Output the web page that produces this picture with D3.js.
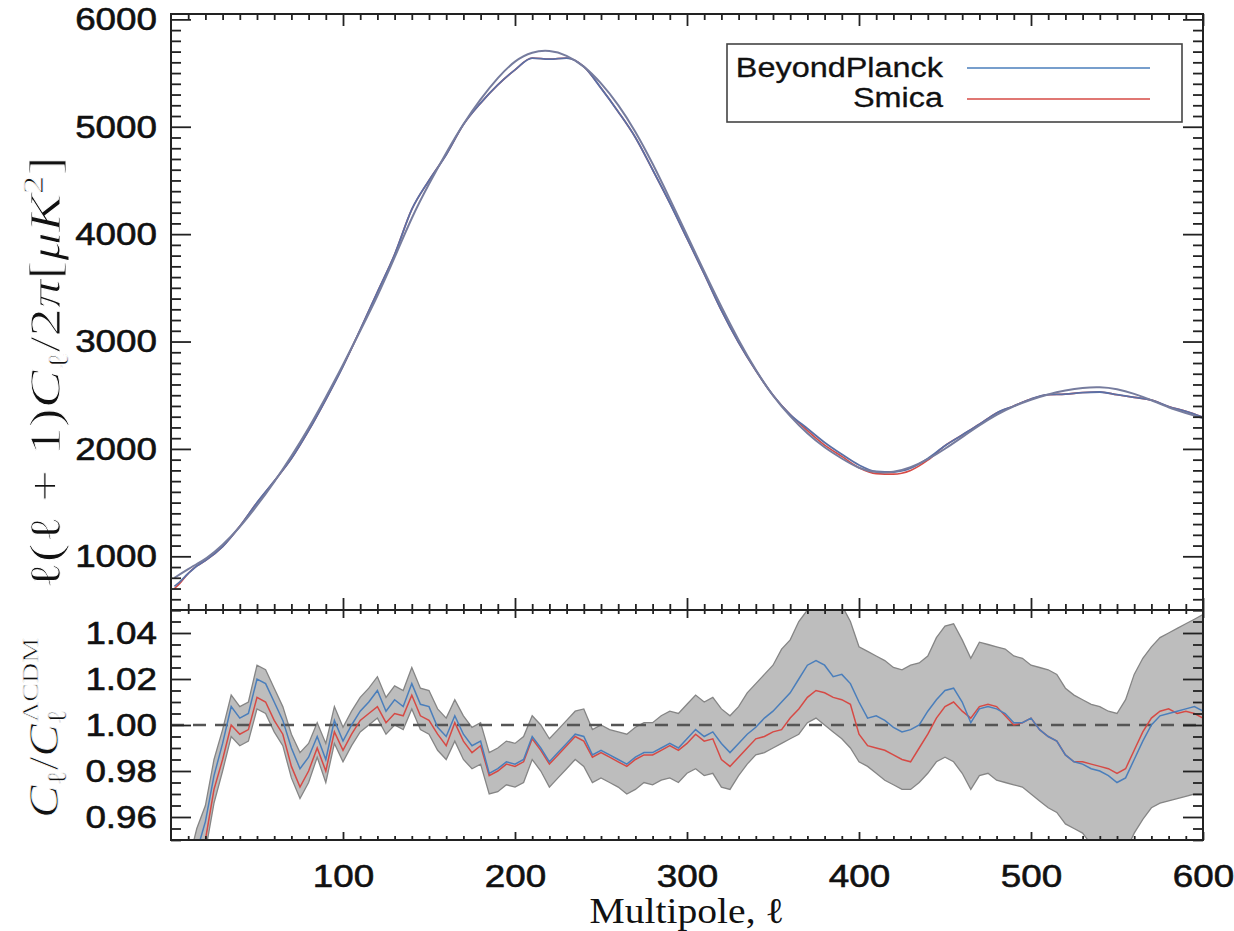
<!DOCTYPE html>
<html>
<head>
<meta charset="utf-8">
<script src="https://cdn.jsdelivr.net/npm/d3@7"></script>
<style>
  body { margin: 0; background: #fff; }
  text { font-family: 'Liberation Sans', Arial, sans-serif; fill: #111; }
  .serif { font-family: 'Liberation Serif', 'DejaVu Serif', serif; }
</style>
</head>
<body>
<div id="chart"></div>
<script>
// ---- data ----
// top panel: D_ell in muK^2
const ellTop = [2, 5, 10, 15, 20, 30, 40, 50, 60, 70, 80, 90, 100, 110, 120, 130, 140, 150, 160, 170,
  180, 190, 200, 210, 220, 230, 240, 250, 260, 270, 280, 290, 300, 310, 320, 330, 340, 350, 360, 370,
  380, 390, 400, 410, 420, 430, 440, 450, 460, 470, 480, 490, 500, 510, 520, 530, 540, 550, 560, 570,
  580, 590, 600]
const lcdmTop = [800, 830, 880, 930, 970, 1100, 1270, 1470, 1690, 1930, 2190, 2480, 2780, 3100, 3420, 3780, 4160, 4470, 4760, 5030,
  5260, 5460, 5620, 5700, 5715, 5670, 5570, 5410, 5210, 4960, 4660, 4330, 3990, 3650, 3320, 3010, 2730, 2490, 2300, 2140,
  2010, 1910, 1815, 1778, 1780, 1825, 1900, 2000, 2110, 2220, 2320, 2400, 2460, 2510, 2545, 2570, 2578, 2560, 2515, 2455,
  2385, 2335, 2285]
const bpTop = [720, 760, 840, 910, 960, 1090, 1280, 1500, 1700, 1910, 2170, 2460, 2770, 3110, 3460, 3810, 4230, 4500, 4740, 5020,
  5220, 5390, 5530, 5640, 5630, 5640, 5560, 5360, 5140, 4900, 4600, 4290, 3960, 3630, 3290, 2990, 2730, 2500, 2320, 2190,
  2060, 1950, 1850, 1790, 1785, 1820, 1910, 2030, 2130, 2230, 2335, 2400, 2465, 2505, 2510, 2525, 2530, 2505, 2480, 2455,
  2395, 2350, 2295]
const smicaTop = [700, 745, 840, 910, 960, 1090, 1280, 1500, 1700, 1910, 2170, 2460, 2770, 3110, 3460, 3810, 4230, 4500, 4740, 5020,
  5220, 5390, 5530, 5640, 5630, 5640, 5560, 5360, 5140, 4900, 4600, 4290, 3960, 3630, 3290, 2990, 2730, 2500, 2320, 2170,
  2035, 1930, 1825, 1770, 1765, 1800, 1895, 2030, 2130, 2230, 2335, 2400, 2465, 2505, 2510, 2525, 2530, 2505, 2480, 2455,
  2395, 2350, 2295]

// bottom panel: C_ell / C_ell^LCDM
const ellRatio = [10, 15, 20, 25, 30, 35, 40, 45, 50, 55,
  60, 65, 70, 75, 80, 85, 90, 95, 100, 105,
  110, 115, 120, 125, 130, 135, 140, 145, 150, 155,
  160, 165, 170, 175, 180, 185, 190, 195, 200, 205,
  210, 215, 220, 225, 230, 235, 240, 245, 250, 255,
  260, 265, 270, 275, 280, 285, 290, 295, 300, 305,
  310, 315, 320, 325, 330, 335, 340, 345, 350, 355,
  360, 365, 370, 375, 380, 385, 390, 395, 400, 405,
  410, 415, 420, 425, 430, 435, 440, 445, 450, 455,
  460, 465, 470, 475, 480, 485, 490, 495, 500, 505,
  510, 515, 520, 525, 530, 535, 540, 545, 550, 555,
  560, 565, 570, 575, 580, 585, 590, 595, 600]
const bpRatio = [0.930, 0.945, 0.958, 0.978, 0.992, 1.008, 1.003, 1.005, 1.020, 1.018,
  1.010, 1.002, 0.990, 0.981, 0.986, 0.995, 0.985, 1.002, 0.993, 1.000,
  1.006, 1.010, 1.015, 1.006, 1.011, 1.008, 1.018, 1.009, 1.008, 0.999,
  0.995, 1.004, 0.996, 0.991, 0.993, 0.979, 0.981, 0.984, 0.983, 0.985,
  0.995, 0.990, 0.984, 0.988, 0.992, 0.996, 0.995, 0.987, 0.989, 0.987,
  0.985, 0.983, 0.986, 0.988, 0.988, 0.990, 0.992, 0.990, 0.994, 0.998,
  0.995, 0.997, 0.992, 0.988, 0.992, 0.996, 0.999, 1.003, 1.006, 1.010,
  1.014, 1.020, 1.026, 1.028, 1.026, 1.021, 1.022, 1.018, 1.010, 1.003,
  1.004, 1.002, 0.999, 0.997, 0.998, 1.000, 1.006, 1.011, 1.015, 1.016,
  1.010, 1.001, 1.007, 1.008, 1.007, 1.005, 1.001, 1.001, 1.003, 0.998,
  0.995, 0.993, 0.987, 0.984, 0.983, 0.981, 0.980, 0.978, 0.975, 0.977,
  0.985, 0.993, 1.000, 1.004, 1.005, 1.006, 1.007, 1.008, 1.006]
const smicaRatio = [0.925, 0.940, 0.950, 0.972, 0.985, 1.000, 0.996, 0.998, 1.012, 1.010,
  1.002, 0.996, 0.982, 0.973, 0.980, 0.990, 0.980, 0.997, 0.989, 0.996,
  1.002, 1.005, 1.008, 1.001, 1.005, 1.004, 1.013, 1.004, 1.002, 0.996,
  0.991, 1.001, 0.993, 0.988, 0.991, 0.978, 0.980, 0.983, 0.982, 0.984,
  0.994, 0.989, 0.983, 0.987, 0.991, 0.995, 0.993, 0.986, 0.988, 0.986,
  0.984, 0.982, 0.985, 0.987, 0.987, 0.989, 0.991, 0.989, 0.992, 0.996,
  0.993, 0.994, 0.985, 0.982, 0.986, 0.990, 0.994, 0.995, 0.997, 0.998,
  1.003, 1.007, 1.012, 1.015, 1.014, 1.012, 1.011, 1.009, 0.996, 0.991,
  0.990, 0.989, 0.987, 0.985, 0.984, 0.990, 0.996, 1.003, 1.008, 1.010,
  1.006, 1.003, 1.008, 1.009, 1.008, 1.004, 1.000, 1.001, 1.003, 0.998,
  0.995, 0.993, 0.987, 0.984, 0.984, 0.983, 0.982, 0.981, 0.979, 0.981,
  0.989, 0.997, 1.003, 1.006, 1.007, 1.005, 1.006, 1.005, 1.003]
const bandHigh = [0.940, 0.955, 0.965, 0.985, 0.998, 1.013, 1.008, 1.010, 1.026, 1.024,
  1.016, 1.008, 0.996, 0.988, 0.992, 1.001, 0.992, 1.008, 0.999, 1.006,
  1.012, 1.016, 1.021, 1.012, 1.017, 1.015, 1.025, 1.016, 1.015, 1.007,
  1.003, 1.011, 1.004, 0.999, 1.001, 0.988, 0.990, 0.993, 0.992, 0.995,
  1.004, 1.000, 0.994, 0.998, 1.002, 1.006, 1.007, 0.998, 1.000, 0.998,
  0.997, 0.996, 0.999, 1.001, 1.001, 1.004, 1.006, 1.005, 1.009, 1.013,
  1.010, 1.012, 1.007, 1.004, 1.008, 1.014, 1.018, 1.022, 1.026, 1.033,
  1.037, 1.045, 1.050, 1.052, 1.055, 1.052, 1.052, 1.045, 1.034, 1.032,
  1.030, 1.028, 1.025, 1.024, 1.026, 1.027, 1.030, 1.038, 1.043, 1.044,
  1.037, 1.029, 1.036, 1.035, 1.034, 1.033, 1.030, 1.029, 1.026, 1.025,
  1.024, 1.022, 1.016, 1.013, 1.011, 1.009, 1.008, 1.006, 1.005, 1.011,
  1.022, 1.029, 1.034, 1.038, 1.040, 1.042, 1.044, 1.046, 1.048]
const bandLow = [0.915, 0.930, 0.945, 0.966, 0.980, 0.995, 0.991, 0.993, 1.007, 1.005,
  0.997, 0.991, 0.977, 0.968, 0.975, 0.986, 0.975, 0.992, 0.984, 0.991,
  0.997, 1.000, 1.003, 0.996, 1.000, 0.998, 1.007, 0.998, 0.996, 0.989,
  0.985, 0.993, 0.985, 0.981, 0.983, 0.970, 0.971, 0.974, 0.973, 0.975,
  0.985, 0.980, 0.973, 0.977, 0.981, 0.985, 0.982, 0.975, 0.977, 0.975,
  0.973, 0.970, 0.972, 0.975, 0.974, 0.976, 0.977, 0.975, 0.979, 0.981,
  0.978, 0.979, 0.973, 0.972, 0.978, 0.983, 0.987, 0.988, 0.990, 0.992,
  0.994, 0.996, 1.001, 1.003, 1.000, 0.997, 0.994, 0.990, 0.984, 0.982,
  0.979, 0.976, 0.974, 0.972, 0.972, 0.975, 0.979, 0.984, 0.986, 0.984,
  0.979, 0.972, 0.978, 0.979, 0.976, 0.975, 0.974, 0.973, 0.970, 0.967,
  0.964, 0.962, 0.957, 0.955, 0.953, 0.948, 0.945, 0.942, 0.940, 0.945,
  0.953, 0.959, 0.964, 0.966, 0.967, 0.968, 0.969, 0.970, 0.970]

const xTicks = [100, 200, 300, 400, 500, 600]
const topYTicks = [1000, 2000, 3000, 4000, 5000, 6000]
const ratioYTicks = [0.96, 0.98, 1.00, 1.02, 1.04]
const seriesNames = ['BeyondPlanck', 'Smica']
const seriesColors = ['#4a7ebb', '#d64a45']

// ---- layout ----
const width = 1234
const height = 931
const left = 171
const right = 1203
const topY = 14
const midY = 610
const botY = 840

const svg = d3
  .select('#chart')
  .append('svg')
  .attr('width', width)
  .attr('height', height)
  .style('background', '#fff')

const x = d3.scaleLinear().domain([0, 600]).range([left, right])
const yTop = d3.scaleLinear().domain([500, 6050]).range([midY, topY])
const yRat = d3.scaleLinear().domain([0.95, 1.05]).range([botY, midY])

// the original figure has wide-ish glyphs, so stretch text horizontally
function stretch(sel, k) {
  sel.each(function() {
    const len = this.getComputedTextLength()
    d3.select(this)
      .attr('textLength', len * k)
      .attr('lengthAdjust', 'spacingAndGlyphs')
  })
}
function fitTo(sel, len) {
  sel.attr('textLength', len).attr('lengthAdjust', 'spacingAndGlyphs')
}

const defs = svg.append('defs')
defs.append('clipPath').attr('id', 'clip-top')
  .append('rect').attr('x', left).attr('y', topY).attr('width', right - left).attr('height', midY - topY)
defs.append('clipPath').attr('id', 'clip-bot')
  .append('rect').attr('x', left).attr('y', midY).attr('width', right - left).attr('height', botY - midY)

// ---- top panel lines ----
const topData = ellTop.map((l, i) => ({ l: l, lcdm: lcdmTop[i], bp: bpTop[i], smica: smicaTop[i] }))
const topG = svg.append('g').attr('clip-path', 'url(#clip-top)')

const lineFor = key => d3.line().x(d => x(d.l)).y(d => yTop(d[key]))

topG.append('path').datum(topData)
  .attr('d', lineFor('smica').curve(d3.curveMonotoneX))
  .attr('fill', 'none').attr('stroke', seriesColors[1]).attr('stroke-width', 1.6)
topG.append('path').datum(topData)
  .attr('d', lineFor('bp').curve(d3.curveMonotoneX))
  .attr('fill', 'none').attr('stroke', '#5a70a6').attr('stroke-width', 1.8)
topG.append('path').datum(topData)
  .attr('d', lineFor('lcdm').curve(d3.curveBasis))
  .attr('fill', 'none').attr('stroke', '#767c9e').attr('stroke-width', 2)

// ---- bottom panel ----
const ratioData = ellRatio.map((l, i) => ({
  l: l, bp: bpRatio[i], smica: smicaRatio[i], lo: bandLow[i], hi: bandHigh[i]
}))
const botG = svg.append('g').attr('clip-path', 'url(#clip-bot)')

botG.append('path').datum(ratioData)
  .attr('d', d3.area().x(d => x(d.l)).y0(d => yRat(d.lo)).y1(d => yRat(d.hi)))
  .attr('fill', '#bdbdbd').attr('stroke', '#858585').attr('stroke-width', 1.3)

botG.append('line')
  .attr('x1', x(0)).attr('x2', x(600))
  .attr('y1', yRat(1)).attr('y2', yRat(1))
  .attr('stroke', '#555').attr('stroke-width', 2.5).attr('stroke-dasharray', '13,9')

const ratioLine = key => d3.line().x(d => x(d.l)).y(d => yRat(d[key]))
botG.append('path').datum(ratioData)
  .attr('d', ratioLine('smica'))
  .attr('fill', 'none').attr('stroke', seriesColors[1]).attr('stroke-width', 1.5)
botG.append('path').datum(ratioData)
  .attr('d', ratioLine('bp'))
  .attr('fill', 'none').attr('stroke', seriesColors[0]).attr('stroke-width', 1.5)

// ---- axes ----
const xMinor = d3.range(0, 601, 10).filter(v => v % 100 !== 0)
const topMinor = d3.range(500, 6051, 100).filter(v => v % 1000 !== 0)
const ratMinor = d3.range(0.95, 1.0501, 0.005).filter(v => Math.abs(v * 50 - Math.round(v * 50)) > 1e-6)

function tidy(g) {
  g.select('.domain').remove()
  g.selectAll('line').attr('stroke', '#222').attr('stroke-width', 1.8)
}

// top panel y axes
svg.append('g').attr('transform', 'translate(' + left + ',0)')
  .call(d3.axisLeft(yTop).tickValues(topMinor).tickSize(-10).tickFormat(''))
  .call(tidy)
const yTopAxis = svg.append('g').attr('transform', 'translate(' + left + ',0)')
  .call(d3.axisLeft(yTop).tickValues(topYTicks).tickSizeInner(-20).tickSizeOuter(0).tickPadding(14).tickFormat(d3.format('d')))
  .call(tidy)
svg.append('g').attr('transform', 'translate(' + right + ',0)')
  .call(d3.axisRight(yTop).tickValues(topMinor).tickSize(-10).tickFormat(''))
  .call(tidy)
svg.append('g').attr('transform', 'translate(' + right + ',0)')
  .call(d3.axisRight(yTop).tickValues(topYTicks).tickSize(-20).tickFormat(''))
  .call(tidy)

// ratio y axes
svg.append('g').attr('transform', 'translate(' + left + ',0)')
  .call(d3.axisLeft(yRat).tickValues(ratMinor).tickSize(-10).tickFormat(''))
  .call(tidy)
const yRatAxis = svg.append('g').attr('transform', 'translate(' + left + ',0)')
  .call(d3.axisLeft(yRat).tickValues(ratioYTicks).tickSizeInner(-20).tickSizeOuter(0).tickPadding(14).tickFormat(d3.format('.2f')))
  .call(tidy)
svg.append('g').attr('transform', 'translate(' + right + ',0)')
  .call(d3.axisRight(yRat).tickValues(ratMinor).tickSize(-10).tickFormat(''))
  .call(tidy)
svg.append('g').attr('transform', 'translate(' + right + ',0)')
  .call(d3.axisRight(yRat).tickValues(ratioYTicks).tickSize(-20).tickFormat(''))
  .call(tidy)

// x axes: top edge, divider (both ways), bottom edge
const xEdges = [
  { y: topY, axis: d3.axisTop, major: -12, minor: -6 },
  { y: midY, axis: d3.axisBottom, major: -12, minor: -6 },
  { y: midY, axis: d3.axisTop, major: -8, minor: -4 },
  { y: botY, axis: d3.axisBottom, major: -8, minor: -4 }
]
xEdges.forEach(e => {
  svg.append('g').attr('transform', 'translate(0,' + e.y + ')')
    .call(e.axis(x).tickValues(xMinor).tickSize(e.minor).tickFormat(''))
    .call(tidy)
  svg.append('g').attr('transform', 'translate(0,' + e.y + ')')
    .call(e.axis(x).tickValues(xTicks).tickSize(e.major).tickFormat(''))
    .call(tidy)
})
const xLabelAxis = svg.append('g').attr('transform', 'translate(0,' + botY + ')')
  .call(d3.axisBottom(x).tickValues(xTicks).tickSize(0).tickPadding(24).tickFormat(d3.format('d')))
xLabelAxis.select('.domain').remove()

;[yTopAxis, yRatAxis, xLabelAxis].forEach(a => {
  a.selectAll('text')
    .attr('font-family', "'Liberation Sans', Arial, sans-serif")
    .attr('font-size', 32)
    .attr('fill', '#111')
    .attr('stroke', '#111')
    .attr('stroke-width', 0.6)
    .call(stretch, 1.15)
})

// frames
svg.append('rect')
  .attr('x', left).attr('y', topY).attr('width', right - left).attr('height', botY - topY)
  .attr('fill', 'none').attr('stroke', '#222').attr('stroke-width', 2)
svg.append('line')
  .attr('x1', left).attr('x2', right).attr('y1', midY).attr('y2', midY)
  .attr('stroke', '#222').attr('stroke-width', 2)

// ---- legend ----
const legend = svg.append('g')
legend.append('rect')
  .attr('x', 727).attr('y', 44).attr('width', 455).attr('height', 78)
  .attr('fill', '#fff').attr('stroke', '#444').attr('stroke-width', 1.6)
seriesNames.forEach((name, i) => {
  legend.append('text')
    .attr('x', 943).attr('y', 77 + i * 30)
    .attr('text-anchor', 'end')
    .attr('font-size', 27)
    .attr('stroke', '#111').attr('stroke-width', 0.3)
    .text(name)
    .call(stretch, 1.2)
  legend.append('line')
    .attr('x1', 967).attr('x2', 1150)
    .attr('y1', 68 + i * 31).attr('y2', 68 + i * 31)
    .attr('stroke', seriesColors[i]).attr('stroke-width', 1.5)
})

// ---- axis titles ----
svg.append('text').attr('class', 'serif')
  .attr('x', (left + right) / 2).attr('y', 923)
  .attr('text-anchor', 'middle').attr('font-size', 36)
  .text('Multipole, ℓ')
  .call(stretch, 1.1)

// serif math titles: thin the strokes a little with a white outline
const yl = svg.append('text').attr('class', 'serif')
  .attr('transform', 'translate(60,373) rotate(-90)')
  .attr('text-anchor', 'middle').attr('font-size', 44)
  .attr('stroke', '#fff').attr('stroke-width', 0.9)
yl.append('tspan').text('ℓ(ℓ + 1)')
yl.append('tspan').attr('font-style', 'italic').text('C')
yl.append('tspan').attr('font-size', 29).attr('dy', 8).text('ℓ')
yl.append('tspan').attr('dy', -8).text('/2')
yl.append('tspan').attr('font-style', 'italic').text('π')
yl.append('tspan').text('[')
yl.append('tspan').attr('font-style', 'italic').text('μK')
yl.append('tspan').attr('font-size', 29).attr('dy', -17).text('2')
yl.append('tspan').attr('dy', 17).text(']')
yl.call(fitTo, 433)

const yr = svg.append('text').attr('class', 'serif')
  .attr('transform', 'translate(58,728) rotate(-90)')
  .attr('text-anchor', 'middle').attr('font-size', 42)
  .attr('stroke', '#fff').attr('stroke-width', 0.7)
yr.append('tspan').attr('font-style', 'italic').text('C')
yr.append('tspan').attr('font-size', 27).attr('dy', 8).text('ℓ')
yr.append('tspan').attr('dy', -8).text('/')
yr.append('tspan').attr('font-style', 'italic').text('C')
yr.append('tspan').attr('font-size', 27).attr('dy', 8).text('ℓ')
yr.append('tspan').attr('font-size', 24).attr('dx', -11).attr('dy', -28).text('ΛCDM')
yr.call(fitTo, 180)
</script>
</body>
</html>
